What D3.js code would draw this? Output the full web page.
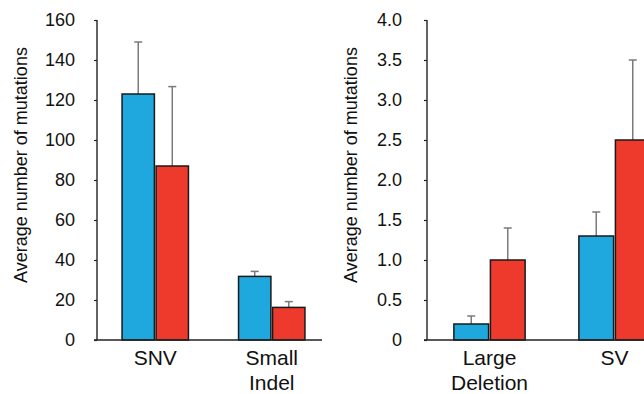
<!DOCTYPE html>
<html>
<head>
<meta charset="utf-8">
<script src="https://cdn.jsdelivr.net/npm/d3@7"></script>
<style>
  body { margin: 0; background: #fff; }
  svg { display: block; font-family: "Liberation Sans", Arial, sans-serif; }
</style>
</head>
<body>
<div id="chart"></div>
<script>
// data
const series = ['group1', 'group2'];
const colours = ['#1ea8dd', '#ee3a2c'];

const leftCats = ['SNV', 'Small\nIndel'];
const leftMeans = [[123, 87], [31.8, 16.3]];
const leftErr = [[149, 126.7], [34.3, 19.2]];
const leftTicks = [0, 20, 40, 60, 80, 100, 120, 140, 160];

const rightCats = ['Large\nDeletion', 'SV'];
const rightMeans = [[0.2, 1.0], [1.3, 2.5]];
const rightErr = [[0.3, 1.4], [1.6, 3.5]];
const rightTicks = [0, 0.5, 1.0, 1.5, 2.0, 2.5, 3.0, 3.5, 4.0];

const W = 644, H = 394;
const svg = d3.select('#chart').append('svg')
  .attr('width', W)
  .attr('height', H);

function panel(opts) {
  const g = svg.append('g');
  const y = d3.scaleLinear().domain(opts.domain).range([340, 20]);
  const x0 = d3.scaleBand().domain(opts.cats).range(opts.xr)
    .paddingInner(0.43).paddingOuter(0.215);
  const x1 = d3.scaleBand().domain(series).range([0, x0.bandwidth()])
    .paddingInner(0.05);

  // y axis
  const yAxis = d3.axisLeft(y)
    .tickValues(opts.ticks)
    .tickSize(3)
    .tickPadding(opts.pad)
    .tickFormat(opts.fmt);
  const ya = g.append('g')
    .attr('transform', 'translate(' + opts.xr[0] + ',0)')
    .call(yAxis);
  ya.select('.domain').remove();
  ya.selectAll('.tick line').attr('stroke', '#222').attr('stroke-width', 1.2);
  ya.selectAll('.tick text')
    .attr('fill', '#111')
    .style('font-size', '18px')
    .style('font-family', '"Liberation Sans", Arial, sans-serif');
  g.append('line')
    .attr('x1', opts.xr[0]).attr('x2', opts.xr[0])
    .attr('y1', y(opts.domain[1])).attr('y2', y(0))
    .attr('stroke', '#222').attr('stroke-width', 1.4);

  // y title
  g.append('text')
    .attr('transform', 'translate(' + opts.titleX + ',' + 165 + ') rotate(-90)')
    .attr('text-anchor', 'middle')
    .attr('dy', '0.35em')
    .style('font-size', '18px')
    .attr('fill', '#111')
    .text('Average number of mutations');

  // bars
  opts.cats.forEach(function (c, i) {
    const grp = g.append('g').attr('transform', 'translate(' + x0(c) + ',0)');
    series.forEach(function (s, j) {
      const cx = x1(s) + x1.bandwidth() / 2;
      // error bar (upper only)
      grp.append('line')
        .attr('x1', cx).attr('x2', cx)
        .attr('y1', y(opts.means[i][j])).attr('y2', y(opts.err[i][j]))
        .attr('stroke', '#7a7a7a').attr('stroke-width', 1.5);
      grp.append('line')
        .attr('x1', cx - 4).attr('x2', cx + 4)
        .attr('y1', y(opts.err[i][j])).attr('y2', y(opts.err[i][j]))
        .attr('stroke', '#7a7a7a').attr('stroke-width', 1.5);
      grp.append('rect')
        .attr('x', x1(s))
        .attr('y', y(opts.means[i][j]))
        .attr('width', x1.bandwidth())
        .attr('height', y(0) - y(opts.means[i][j]))
        .attr('fill', colours[j])
        .attr('stroke', '#1a1a1a')
        .attr('stroke-width', 1.5);
    });
    // category label
    const lines = c.split('\n');
    const t = g.append('text')
      .attr('text-anchor', 'middle')
      .style('font-size', '21px')
      .attr('fill', '#111');
    lines.forEach(function (l, k) {
      t.append('tspan')
        .attr('x', x0(c) + x0.bandwidth() / 2)
        .attr('y', 365 + k * 25)
        .text(l);
    });
  });

  // baseline
  g.append('line')
    .attr('x1', opts.xr[0] - 3).attr('x2', opts.baseEnd)
    .attr('y1', y(0)).attr('y2', y(0))
    .attr('stroke', '#222').attr('stroke-width', 1.4);
}

panel({
  cats: leftCats, means: leftMeans, err: leftErr, ticks: leftTicks,
  domain: [0, 160], xr: [97, 330], baseEnd: 322, pad: 19, titleX: 21,
  fmt: d3.format('d')
});

panel({
  cats: rightCats, means: rightMeans, err: rightErr, ticks: rightTicks,
  domain: [0, 4], xr: [427, 677], baseEnd: 644, pad: 22, titleX: 351,
  fmt: function (d) { return d === 0 ? '0' : d3.format('.1f')(d); }
});
</script>
</body>
</html>
